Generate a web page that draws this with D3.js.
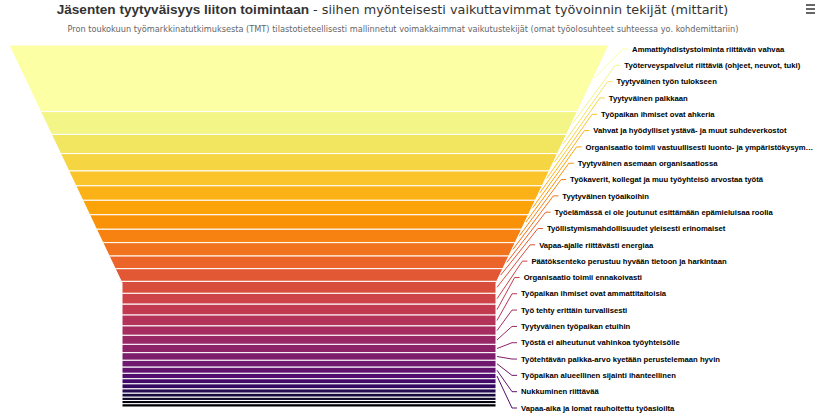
<!DOCTYPE html>
<html>
<head>
<meta charset="utf-8">
<script src="https://cdn.jsdelivr.net/npm/d3@7"></script>
<style>
  body { margin: 0; background: #ffffff; }
  #funnel { width: 816px; height: 415px; }
</style>
</head>
<body>
<div id="funnel"></div>
<script>
// Slice names, top to bottom (only these have a visible data label)
const categories = [
  "Ammattiyhdistystoiminta riittävän vahvaa",
  "Työterveyspalvelut riittäviä (ohjeet, neuvot, tuki)",
  "Tyytyväinen työn tulokseen",
  "Tyytyväinen palkkaan",
  "Työpaikan ihmiset ovat ahkeria",
  "Vahvat ja hyödylliset ystävä- ja muut suhdeverkostot",
  "Organisaatio toimii vastuullisesti luonto- ja ympäristökysymyksissä",
  "Tyytyväinen asemaan organisaatiossa",
  "Työkaverit, kollegat ja muu työyhteisö arvostaa työtä",
  "Tyytyväinen työaikoihin",
  "Työelämässä ei ole joutunut esittämään epämieluisaa roolia",
  "Työllistymismahdollisuudet yleisesti erinomaiset",
  "Vapaa-ajalle riittävästi energiaa",
  "Päätöksenteko perustuu hyvään tietoon ja harkintaan",
  "Organisaatio toimii ennakoivasti",
  "Työpaikan ihmiset ovat ammattitaitoisia",
  "Työ tehty erittäin turvallisesti",
  "Tyytyväinen työpaikan etuihin",
  "Työstä ei aiheutunut vahinkoa työyhteisölle",
  "Työtehtävän palkka-arvo kyetään perustelemaan hyvin",
  "Työpaikan alueellinen sijainti ihanteellinen",
  "Nukkuminen riittävää",
  "Vapaa-aika ja lomat rauhoitettu työasioilta"
];

// Share of each slice (%).
// The last 7 slices are too thin, their labels are hidden in the original.
const values = [
  18.4, 6.3, 5.3, 4.8, 4.1, 4.0, 4.0, 4.0, 3.7, 3.7,
  3.5, 3.5, 3.3, 3.0, 3.0, 3.0, 2.6, 2.5, 2.3, 2.1,
  1.9, 1.7, 1.5, 1.4, 1.4, 1.2, 1.1, 0.9, 0.9, 0.9
];

const titleBold = "Jäsenten tyytyväisyys liiton toimintaan";
const titleRest = " - siihen myönteisesti vaikuttavimmat työvoinnin tekijät (mittarit)";
const subtitleText = "Pron toukokuun työmarkkinatutkimuksesta (TMT) tilastotieteellisesti mallinnetut voimakkaimmat vaikutustekijät (omat työolosuhteet suhteessa yo. kohdemittariin)";

class FunnelChart {
  constructor(parentElement, names, values) {
    this.parentElement = parentElement;
    this.names = names;
    this.values = values;
    this.initVis();
  }

  initVis() {
    const vis = this;

    vis.width = 816;
    vis.height = 415;

    vis.svg = d3
      .select("#" + vis.parentElement)
      .append("svg")
      .attr("width", vis.width)
      .attr("height", vis.height)
      .style("font-family", "'DejaVu Sans', sans-serif");

    // funnel shape
    vis.top = 45;
    vis.bottom = 407;
    vis.cx = 309;
    vis.topHalf = 300;
    vis.neckHalf = 187;
    vis.neckY = 283;

    vis.edge = d3
      .scaleLinear()
      .domain([vis.top, vis.neckY])
      .range([vis.topHalf, vis.neckHalf])
      .clamp(true);

    // title + subtitle
    const title = vis.svg
      .append("text")
      .attr("x", 392.5)
      .attr("y", 13.5)
      .attr("text-anchor", "middle")
      .attr("fill", "#333333");
    title
      .append("tspan")
      .style("font-family", "'Liberation Sans', Arial, sans-serif")
      .style("font-weight", "bold")
      .style("font-size", "13.6px")
      .text(titleBold);
    title
      .append("tspan")
      .style("font-size", "12.8px")
      .text(titleRest);

    vis.svg
      .append("text")
      .attr("x", 403)
      .attr("y", 31.5)
      .attr("text-anchor", "middle")
      .attr("fill", "#666666")
      .style("font-size", "8.2px")
      .text(subtitleText);

    // export menu icon
    vis.svg
      .selectAll("line.menu")
      .data([5, 9, 13])
      .join("line")
      .attr("class", "menu")
      .attr("x1", 806)
      .attr("x2", 815)
      .attr("y1", (d) => d)
      .attr("y2", (d) => d)
      .attr("stroke", "#555555")
      .attr("stroke-width", 1.8);

    vis.wrangleData();
  }

  wrangleData() {
    const vis = this;

    let cum = 0;
    vis.slices = vis.values.map((v, i) => {
      const s = { name: vis.names[i] || null, value: v, start: cum, end: cum + v, index: i };
      cum += v;
      return s;
    });
    vis.total = cum;

    vis.updateVis();
  }

  updateVis() {
    const vis = this;

    vis.y = d3.scaleLinear().domain([0, vis.total]).range([vis.top, vis.bottom]);

    vis.color = d3
      .scaleSequential((t) => d3.interpolateInferno(1 - t))
      .domain([0, vis.slices.length - 1]);

    const line = d3.line();

    const slicePoints = (d) => {
      const y0 = vis.y(d.start);
      const y1 = vis.y(d.end);
      const pts = [
        [vis.cx - vis.edge(y0), y0],
        [vis.cx + vis.edge(y0), y0]
      ];
      if (y0 < vis.neckY && y1 > vis.neckY) pts.push([vis.cx + vis.neckHalf, vis.neckY]);
      pts.push([vis.cx + vis.edge(y1), y1]);
      pts.push([vis.cx - vis.edge(y1), y1]);
      if (y0 < vis.neckY && y1 > vis.neckY) pts.push([vis.cx - vis.neckHalf, vis.neckY]);
      return pts;
    };

    vis.svg
      .append("g")
      .selectAll("path.slice")
      .data(vis.slices)
      .join("path")
      .attr("class", "slice")
      .attr("d", (d) => line(slicePoints(d)) + "Z")
      .attr("fill", (d) => vis.color(d.index))
      .attr("stroke", "#ffffff")
      .attr("stroke-width", 1);

    // data labels, packed evenly down the right side
    const labelled = vis.slices.filter((d) => d.name);
    vis.labelY = d3
      .scalePoint()
      .domain(labelled.map((d) => d.name))
      .range([vis.top + 4, vis.bottom + 1]);

    const labelX = (d) => vis.cx + vis.edge(vis.labelY(d.name)) + 25;

    vis.svg
      .append("g")
      .selectAll("path.connector")
      .data(labelled)
      .join("path")
      .attr("class", "connector")
      .attr("d", (d) => {
        const cy = (vis.y(d.start) + vis.y(d.end)) / 2;
        const ly = vis.labelY(d.name);
        const lx = labelX(d);
        return line([
          [vis.cx + vis.edge(cy) + 1, cy],
          [lx - 9, ly],
          [lx - 4, ly]
        ]);
      })
      .attr("fill", "none")
      .attr("stroke", (d) => vis.color(d.index))
      .attr("stroke-width", 1);

    const labels = vis.svg
      .append("g")
      .selectAll("text.label")
      .data(labelled)
      .join("text")
      .attr("class", "label")
      .attr("x", labelX)
      .attr("y", (d) => vis.labelY(d.name))
      .attr("dy", "0.35em")
      .attr("fill", "#000000")
      .style("font-family", "'Liberation Sans', Arial, sans-serif")
      .style("font-weight", "bold")
      .style("font-size", "7.7px")
      .text((d) => d.name);

    // shorten labels that run past the right edge
    labels.each(function (d) {
      const maxW = vis.width - 2 - labelX(d);
      let txt = d.name;
      if (this.getComputedTextLength() <= maxW) return;
      while (txt.length > 1) {
        txt = txt.slice(0, -1);
        this.textContent = txt + "…";
        if (this.getComputedTextLength() <= maxW) break;
      }
    });
  }
}

new FunnelChart("funnel", categories, values);
</script>
</body>
</html>
